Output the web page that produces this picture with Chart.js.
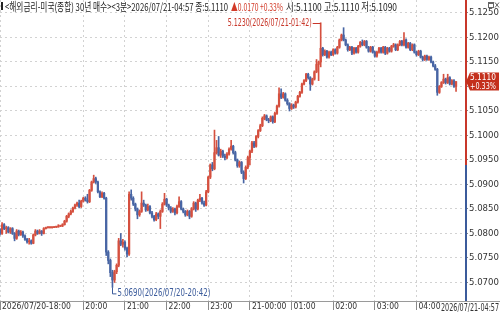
<!DOCTYPE html>
<html><head><meta charset="utf-8">
<script src="https://cdn.jsdelivr.net/npm/chart.js@4"></script>
<style>html,body{margin:0;padding:0;background:#fff}canvas{display:block}</style>
</head><body>
<canvas id="c" width="500" height="314"></canvas>
<script>
// ---- data (3-minute candles, 2026/07/20 18:00 .. 2026/07/21 04:57) ----
const openP = [
5.0808,5.0800,5.0818,5.0810,5.0812,5.0803,5.0810,5.0800,5.0790,5.0805,
5.0798,5.0803,5.0795,5.0788,5.0783,5.0785,5.0780,5.0797,5.0805,5.0800,
5.0805,5.0800,5.0810,5.0812,5.0812,5.0812,5.0812,5.0813,5.0813,5.0815,
5.0815,5.0818,5.0825,5.0835,5.0840,5.0845,5.0852,5.0858,5.0862,5.0855,
5.0866,5.0872,5.0868,5.0865,5.0888,5.0905,5.0912,5.0905,5.0885,5.0875,
5.0882,5.0872,5.0762,5.0745,5.0720,5.0705,5.0722,5.0735,5.0785,5.0778,
5.0782,5.0770,5.0758,5.0880,5.0872,5.0860,5.0850,5.0838,5.0845,5.0862,
5.0858,5.0848,5.0855,5.0842,5.0835,5.0828,5.0840,5.0835,5.0845,5.0860,
5.0870,5.0858,5.0852,5.0845,5.0850,5.0842,5.0855,5.0865,5.0850,5.0845,
5.0838,5.0845,5.0835,5.0850,5.0862,5.0850,5.0868,5.0872,5.0862,5.0858,
5.0885,5.0915,5.0940,5.0932,5.0965,5.0975,5.0960,5.0968,5.0958,5.0955,
5.0962,5.0972,5.0978,5.0965,5.0950,5.0938,5.0945,5.0925,5.0912,5.0935,
5.0955,5.0968,5.0985,5.0978,5.0998,5.1010,5.1020,5.1035,5.1040,5.1032,
5.1030,5.1038,5.1028,5.1045,5.1060,5.1085,5.1078,5.1085,5.1072,5.1065,
5.1055,5.1062,5.1058,5.1068,5.1080,5.1088,5.1105,5.1112,5.1125,5.1118,
5.1105,5.1115,5.1130,5.1145,5.1150,5.1178,5.1165,5.1172,5.1160,5.1170,
5.1165,5.1175,5.1168,5.1180,5.1195,5.1205,5.1195,5.1185,5.1175,5.1180,
5.1168,5.1178,5.1170,5.1182,5.1190,5.1185,5.1192,5.1180,5.1172,5.1180,
5.1170,5.1162,5.1170,5.1178,5.1170,5.1180,5.1168,5.1178,5.1172,5.1182,
5.1185,5.1175,5.1185,5.1192,5.1185,5.1195,5.1180,5.1188,5.1175,5.1185,
5.1170,5.1165,5.1172,5.1160,5.1155,5.1162,5.1155,5.1160,5.1150,5.1142,
5.1135,5.1088,5.1100,5.1108,5.1115,5.1108,5.1118,5.1105,5.1112,5.1100];
const highP = [
5.0810,5.0822,5.0820,5.0815,5.0814,5.0812,5.0812,5.0802,5.0808,5.0807,
5.0806,5.0805,5.0797,5.0790,5.0790,5.0787,5.0799,5.0808,5.0807,5.0808,
5.0806,5.0812,5.0813,5.0813,5.0813,5.0812,5.0814,5.0813,5.0818,5.0816,
5.0820,5.0827,5.0837,5.0842,5.0848,5.0854,5.0860,5.0864,5.0868,5.0868,
5.0874,5.0875,5.0880,5.0890,5.0907,5.0919,5.0915,5.0907,5.0887,5.0885,
5.0884,5.0874,5.0765,5.0748,5.0725,5.0725,5.0738,5.0790,5.0800,5.0788,
5.0785,5.0772,5.0885,5.0889,5.0875,5.0862,5.0852,5.0848,5.0885,5.0868,
5.0860,5.0860,5.0857,5.0845,5.0837,5.0843,5.0842,5.0848,5.0863,5.0882,
5.0872,5.0860,5.0855,5.0853,5.0852,5.0858,5.0875,5.0867,5.0852,5.0847,
5.0848,5.0847,5.0853,5.0865,5.0864,5.0870,5.0880,5.0874,5.0866,5.0888,
5.0917,5.0942,5.0945,5.1011,5.0990,5.0998,5.0972,5.0970,5.0962,5.0965,
5.0975,5.0990,5.0980,5.0968,5.0952,5.0948,5.0947,5.0928,5.0938,5.0958,
5.0970,5.0988,5.0988,5.1000,5.1012,5.1023,5.1038,5.1043,5.1042,5.1035,
5.1040,5.1040,5.1048,5.1062,5.1097,5.1095,5.1088,5.1087,5.1075,5.1067,
5.1065,5.1064,5.1070,5.1082,5.1090,5.1107,5.1114,5.1127,5.1127,5.1120,
5.1117,5.1132,5.1155,5.1152,5.1230,5.1180,5.1175,5.1174,5.1172,5.1172,
5.1177,5.1177,5.1182,5.1197,5.1207,5.1220,5.1197,5.1187,5.1182,5.1182,
5.1180,5.1180,5.1184,5.1192,5.1195,5.1194,5.1194,5.1182,5.1182,5.1182,
5.1172,5.1172,5.1180,5.1180,5.1182,5.1182,5.1180,5.1180,5.1184,5.1188,
5.1187,5.1187,5.1194,5.1194,5.1210,5.1197,5.1190,5.1190,5.1187,5.1187,
5.1172,5.1174,5.1174,5.1162,5.1164,5.1164,5.1162,5.1162,5.1152,5.1145,
5.1137,5.1102,5.1110,5.1125,5.1117,5.1125,5.1120,5.1114,5.1114,5.1110];
const lowP = [
5.0797,5.0798,5.0808,5.0800,5.0801,5.0800,5.0798,5.0785,5.0788,5.0795,
5.0796,5.0792,5.0786,5.0780,5.0778,5.0778,5.0779,5.0795,5.0798,5.0799,
5.0796,5.0799,5.0809,5.0811,5.0811,5.0811,5.0812,5.0812,5.0813,5.0814,
5.0814,5.0817,5.0823,5.0832,5.0838,5.0843,5.0850,5.0855,5.0852,5.0853,
5.0864,5.0866,5.0862,5.0863,5.0886,5.0903,5.0902,5.0883,5.0873,5.0873,
5.0870,5.0755,5.0738,5.0712,5.0690,5.0700,5.0718,5.0732,5.0775,5.0772,
5.0766,5.0752,5.0755,5.0868,5.0857,5.0846,5.0830,5.0835,5.0843,5.0855,
5.0845,5.0846,5.0840,5.0832,5.0825,5.0826,5.0830,5.0810,5.0843,5.0858,
5.0855,5.0848,5.0842,5.0843,5.0838,5.0840,5.0853,5.0848,5.0842,5.0835,
5.0836,5.0830,5.0833,5.0848,5.0845,5.0848,5.0865,5.0860,5.0855,5.0856,
5.0883,5.0912,5.0928,5.0930,5.0962,5.0958,5.0955,5.0955,5.0950,5.0952,
5.0960,5.0970,5.0962,5.0948,5.0935,5.0935,5.0922,5.0903,5.0910,5.0932,
5.0940,5.0965,5.0975,5.0976,5.0995,5.1008,5.1018,5.1032,5.1030,5.1026,
5.1028,5.1025,5.1026,5.1043,5.1058,5.1075,5.1076,5.1070,5.1062,5.1050,
5.1053,5.1055,5.1056,5.1066,5.1078,5.1086,5.1103,5.1110,5.1115,5.1092,
5.1103,5.1113,5.1128,5.1112,5.1140,5.1162,5.1163,5.1158,5.1158,5.1163,
5.1163,5.1166,5.1166,5.1178,5.1193,5.1193,5.1183,5.1172,5.1173,5.1165,
5.1166,5.1168,5.1168,5.1180,5.1183,5.1183,5.1178,5.1170,5.1170,5.1168,
5.1160,5.1160,5.1168,5.1168,5.1168,5.1165,5.1166,5.1170,5.1170,5.1180,
5.1173,5.1173,5.1183,5.1183,5.1183,5.1178,5.1178,5.1173,5.1173,5.1168,
5.1162,5.1163,5.1158,5.1152,5.1153,5.1153,5.1153,5.1148,5.1140,5.1133,
5.1082,5.1086,5.1098,5.1106,5.1105,5.1106,5.1103,5.1103,5.1098,5.1090];
const closeP = [
5.0800,5.0818,5.0810,5.0812,5.0803,5.0810,5.0800,5.0790,5.0805,5.0798,
5.0803,5.0795,5.0788,5.0783,5.0785,5.0780,5.0797,5.0805,5.0800,5.0805,
5.0800,5.0810,5.0812,5.0812,5.0812,5.0812,5.0813,5.0813,5.0815,5.0815,
5.0818,5.0825,5.0835,5.0840,5.0845,5.0852,5.0858,5.0862,5.0855,5.0866,
5.0872,5.0868,5.0865,5.0888,5.0905,5.0912,5.0905,5.0885,5.0875,5.0882,
5.0872,5.0762,5.0745,5.0720,5.0705,5.0722,5.0735,5.0785,5.0778,5.0782,
5.0770,5.0758,5.0880,5.0872,5.0860,5.0850,5.0838,5.0845,5.0862,5.0858,
5.0848,5.0855,5.0842,5.0835,5.0828,5.0840,5.0835,5.0845,5.0860,5.0870,
5.0858,5.0852,5.0845,5.0850,5.0842,5.0855,5.0865,5.0850,5.0845,5.0838,
5.0845,5.0835,5.0850,5.0862,5.0850,5.0868,5.0872,5.0862,5.0858,5.0885,
5.0915,5.0940,5.0932,5.0965,5.0975,5.0960,5.0968,5.0958,5.0955,5.0962,
5.0972,5.0978,5.0965,5.0950,5.0938,5.0945,5.0925,5.0912,5.0935,5.0955,
5.0968,5.0985,5.0978,5.0998,5.1010,5.1020,5.1035,5.1040,5.1032,5.1030,
5.1038,5.1028,5.1045,5.1060,5.1085,5.1078,5.1085,5.1072,5.1065,5.1055,
5.1062,5.1058,5.1068,5.1080,5.1088,5.1105,5.1112,5.1125,5.1118,5.1105,
5.1115,5.1130,5.1145,5.1150,5.1178,5.1165,5.1172,5.1160,5.1170,5.1165,
5.1175,5.1168,5.1180,5.1195,5.1205,5.1195,5.1185,5.1175,5.1180,5.1168,
5.1178,5.1170,5.1182,5.1190,5.1185,5.1192,5.1180,5.1172,5.1180,5.1170,
5.1162,5.1170,5.1178,5.1170,5.1180,5.1168,5.1178,5.1172,5.1182,5.1185,
5.1175,5.1185,5.1192,5.1185,5.1195,5.1180,5.1188,5.1175,5.1185,5.1170,
5.1165,5.1172,5.1160,5.1155,5.1162,5.1155,5.1160,5.1150,5.1142,5.1135,
5.1088,5.1100,5.1108,5.1115,5.1108,5.1118,5.1105,5.1112,5.1100,5.1110];

const xTickIdx    = [0, 40, 60, 80, 100, 120, 140, 160, 180, 200];
const xTickLabels = ["2026/07/20-18:00","20:00","21:00","22:00","23:00","21-00:00","01:00","02:00","03:00","04:00"];
const yTicks      = [5.1250,5.1200,5.1150,5.1100,5.1050,5.1000,5.0950,5.0900,5.0850,5.0800,5.0750,5.0700];
const yTickLabels = ["5.1250","5.1200","5.1150","5.1100","5.1050","5.1000","5.0950","5.0900","5.0850","5.0800","5.0750","5.0700"];
const prevClose   = 5.0940;
const lastTime    = "2026/07/21-04:57";
const headerMain  = "<해외금리-미국(종합) 30년 매수><3분>2026/07/21-04:57 종:5.1110";
const headerChg   = "▲0.0170 +0.33%";
const headerOHL   = "시:5.1100 고:5.1110 저:5.1090";
const tagLines    = ["5.1110", "+0.33%"];
const highLabel   = "5.1230(2026/07/21-01:42)";
const lowLabel    = "5.0690(2026/07/20-20:42)";

// ---- styles ----
const RED = '#d5503f', BLUE = '#4865a4';
const AXF = "'Liberation Sans Narrow','DejaVu Sans Condensed','Liberation Sans',Arial,sans-serif";
const KR = "'Noto Sans CJK KR','Noto Sans',sans-serif";

const idx = closeP.map((_, i) => i);
const candleColors = idx.map(i => closeP[i] >= openP[i] ? RED : BLUE);

const overlay = {
  id: 'overlay',
  afterDraw(chart) {
    const ctx = chart.ctx, a = chart.chartArea;
    const xs = chart.scales.x, ys = chart.scales.y;
    ctx.save();
    // right axis line, red above previous close, blue below
    const yp = ys.getPixelForValue(prevClose);
    ctx.lineWidth = 2;
    ctx.strokeStyle = '#c8372a';
    ctx.beginPath(); ctx.moveTo(a.right + 1, 0); ctx.lineTo(a.right + 1, yp); ctx.stroke();
    ctx.strokeStyle = '#3b5b9b';
    ctx.beginPath(); ctx.moveTo(a.right + 1, yp); ctx.lineTo(a.right + 1, a.bottom); ctx.stroke();
    // bottom line extension under axis area
    ctx.lineWidth = 1; ctx.strokeStyle = '#9a9a9a';
    ctx.beginPath(); ctx.moveTo(a.right, a.bottom + 0.5); ctx.lineTo(chart.width, a.bottom + 0.5); ctx.stroke();

    // high / low annotations
    let hi = 0, lo = 0;
    highP.forEach((v, i) => { if (v > highP[hi]) hi = i; });
    lowP.forEach((v, i) => { if (v < lowP[lo]) lo = i; });
    const hx = xs.getPixelForValue(hi), hy = ys.getPixelForValue(highP[hi]);
    ctx.strokeStyle = '#c8372a'; ctx.fillStyle = '#c8372a';
    ctx.beginPath(); ctx.moveTo(hx - 8, Math.round(hy) + 0.5); ctx.lineTo(hx, Math.round(hy) + 0.5); ctx.stroke();
    ctx.font = '10px ' + AXF; ctx.textAlign = 'right'; ctx.textBaseline = 'middle';
    ctx.fillText(highLabel, hx - 9, hy + 1, 84);
    const lx = xs.getPixelForValue(lo), ly = ys.getPixelForValue(lowP[lo]);
    ctx.strokeStyle = '#3b5b9b'; ctx.fillStyle = '#3b5b9b';
    ctx.beginPath(); ctx.moveTo(Math.round(lx) + 0.5, ly); ctx.lineTo(Math.round(lx) + 0.5, ly + 6.5); ctx.lineTo(lx + 4, ly + 6.5); ctx.stroke();
    ctx.textAlign = 'left';
    ctx.fillText(lowLabel, lx + 5, ly + 6, 93);

    // current price tag
    const cy = ys.getPixelForValue(closeP[closeP.length - 1]);
    ctx.fillStyle = '#c4301c';
    ctx.beginPath();
    ctx.moveTo(a.right + 1, cy); ctx.lineTo(a.right + 5, cy - 9); ctx.lineTo(chart.width - 1, cy - 9);
    ctx.lineTo(chart.width - 1, cy + 9); ctx.lineTo(a.right + 5, cy + 9); ctx.closePath(); ctx.fill();
    ctx.fillStyle = '#ffffff'; ctx.textAlign = 'center'; ctx.font = '9px ' + AXF;
    ctx.fillText(tagLines[0], a.right + 18, cy - 4, 26);
    ctx.fillText(tagLines[1], a.right + 18, cy + 5, 26);

    // header
    ctx.fillStyle = '#222'; ctx.fillRect(1, 2, 2, 8);
    ctx.textAlign = 'left'; ctx.textBaseline = 'middle';
    ctx.font = '11px ' + KR;
    ctx.fillText(headerMain, 5, 6.5, 223);
    ctx.fillStyle = '#d23a28';
    ctx.fillText(headerChg, 231, 6.5, 52);
    ctx.fillStyle = '#222';
    ctx.fillText(headerOHL, 286, 6.5, 111);

    // last time label bottom-right
    ctx.font = '10px ' + AXF; ctx.textAlign = 'right'; ctx.fillStyle = '#333';
    ctx.fillText(lastTime, chart.width - 1, a.bottom + 7, 58);

    // window icons
    ctx.strokeStyle = '#666'; ctx.lineWidth = 1;
    ctx.strokeRect(488.5, 2.5, 5, 5);
    ctx.beginPath(); ctx.moveTo(488.5, 3.5); ctx.lineTo(493.5, 3.5); ctx.stroke();
    ctx.beginPath(); ctx.moveTo(495, 2.5); ctx.lineTo(499, 7.5); ctx.moveTo(499, 2.5); ctx.lineTo(495, 7.5); ctx.stroke();
    ctx.restore();
  }
};

new Chart(document.getElementById('c'), {
  type: 'bar',
  data: {
    datasets: [
      { label: 'wick', data: idx.map(i => ({ x: i, y: [lowP[i], highP[i]] })),
        backgroundColor: candleColors, barThickness: 1, grouped: false, order: 2, minBarLength: 1 },
      { label: 'body', data: idx.map(i => ({ x: i, y: [Math.min(openP[i], closeP[i]), Math.max(openP[i], closeP[i])] })),
        backgroundColor: candleColors, barThickness: 1.6, grouped: false, order: 1, minBarLength: 1 }
    ]
  },
  options: {
    responsive: false, animation: false, devicePixelRatio: 1,
    layout: { padding: 0 },
    plugins: { legend: { display: false }, tooltip: { enabled: false } },
    scales: {
      x: {
        type: 'linear', min: 0, max: 223.3, offset: false,
        afterBuildTicks: s => { s.ticks = xTickIdx.map(v => ({ value: v })); },
        ticks: { autoSkip: false, maxRotation: 0, align: 'start', labelOffset: 2, padding: -8,
          callback: v => xTickLabels[xTickIdx.indexOf(v)] || '',
          font: { family: AXF, size: 8.5 }, color: '#333' },
        grid: { offset: false, color: '#d2d2d2', tickColor: '#8a8a8a', tickLength: 9, tickBorderDash: [] },
        border: { display: true, color: '#9a9a9a', dash: [2, 3] },
        afterFit: s => { s.height = 13; s.paddingLeft = 0; s.paddingRight = 0; }
      },
      y: {
        position: 'right', min: 5.06622, max: 5.12765,
        afterBuildTicks: s => { s.ticks = yTicks.map(v => ({ value: v })); },
        ticks: { autoSkip: false, padding: 1, callback: (v, i) => yTickLabels[i],
          font: { family: AXF, size: 9.5 }, color: '#333' },
        grid: { color: '#d2d2d2', tickColor: '#888', tickLength: 3, tickBorderDash: [] },
        border: { display: false, dash: [2, 3] },
        afterFit: s => { s.width = 35; s.paddingTop = 0; s.paddingBottom = 0; }
      }
    }
  },
  plugins: [overlay]
});
</script>
</body></html>
